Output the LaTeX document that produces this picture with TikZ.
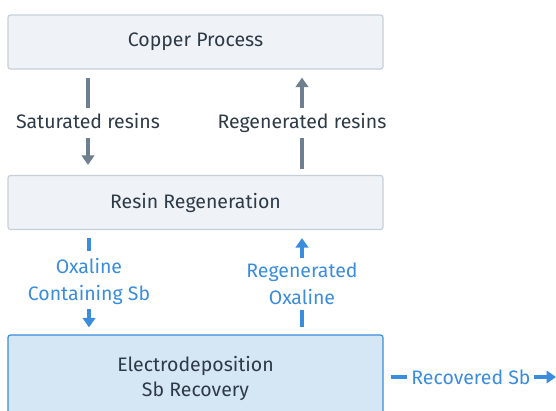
\documentclass[tikz,border=0pt]{standalone}
\usepackage{fontspec}
\setmainfont{Fira Sans}
\usetikzlibrary{arrows.meta,calc,positioning}
\definecolor{boxfill}{HTML}{EFF3F7}
\definecolor{boxline}{HTML}{C6CFD8}
\definecolor{bluefill}{HTML}{D5E6F5}
\definecolor{blueline}{HTML}{3A8CDC}
\definecolor{greyflow}{HTML}{6E7F8F}
\definecolor{darktext}{HTML}{2E3A46}
\tikzset{
  box-grey/.style={draw=boxline,fill=boxfill,line width=1.2pt,rounded corners=2.5pt,minimum width=375pt,minimum height=54pt,inner sep=0pt,text=darktext,font=\fontsize{19.5}{25}\selectfont,align=center},
  box-blue/.style={box-grey,draw=blueline,fill=bluefill,minimum height=86pt},
  lbl-grey/.style={inner sep=0pt,text height=14pt,text depth=4pt,text=darktext,font=\fontsize{19.5}{27}\selectfont},
  lbl-blue/.style={inner sep=0pt,text=blueline,font=\fontsize{19.5}{27}\selectfont,align=center},
  flow-grey/.style={line width=4pt,greyflow},
  flow-blue/.style={line width=4pt,blueline},
  tip-grey/.style={flow-grey,-{Triangle[width=12.5pt,length=9.5pt]}},
  tip-blue/.style={flow-blue,-{Triangle[width=12.5pt,length=9.5pt]}},
}
\begin{document}
\begin{tikzpicture}[x=1pt,y=-1pt]
  \useasboundingbox (0,0) rectangle (556,410);

  % boxes
  \node[box-grey] (copper)  at (195.5, 42)    {Copper Process};
  \node[box-grey] (regen)   at (195.5, 202.5) {Resin Regeneration};
  \node[box-blue] (electro) at (195.5, 378)   {Electrodeposition\\Sb Recovery};

  % resins loop
  \node[lbl-grey] (sat) at (88, 123)  {Saturated resins};
  \node[lbl-grey] (rgr) at (302, 123) {Regenerated resins};
  \draw[flow-grey] ([yshift=-8pt]copper.south -| sat) -- ([yshift=6pt]sat.north);
  \draw[tip-grey]  ([yshift=-6pt]sat.south) -- ([yshift=10pt]regen.north -| sat);
  \draw[flow-grey] ([yshift=6pt]regen.north -| rgr) -- ([yshift=-6pt]rgr.south);
  \draw[tip-grey]  ([yshift=6pt]rgr.north) -- ([yshift=-8pt]copper.south -| rgr);

  % oxaline loop
  \node[lbl-blue] (oxs) at (89, 281)  {Oxaline\\Containing Sb};
  \node[lbl-blue] (oxr) at (302, 284) {Regenerated\\Oxaline};
  \draw[flow-blue] ([yshift=-8pt]regen.south -| oxs) -- ([yshift=7pt]oxs.north);
  \draw[tip-blue]  ([yshift=-5pt]oxs.south) -- ([yshift=7pt]electro.north -| oxs);
  \draw[flow-blue] ([yshift=7pt]electro.north -| oxr) -- ([yshift=-5pt]oxr.south);
  \draw[tip-blue]  ([yshift=5pt]oxr.north) -- ([yshift=-8pt]regen.south -| oxr);

  % output
  \node[lbl-blue] (rec) at (471, 377) {Recovered Sb};
  \coordinate (out) at (556, 377);
  \draw[flow-blue] ([xshift=7pt]electro.east |- rec) -- ([xshift=-4pt]rec.west);
  \draw[tip-blue]  ([xshift=3pt]rec.east) -- (out);
\end{tikzpicture}
\end{document}
